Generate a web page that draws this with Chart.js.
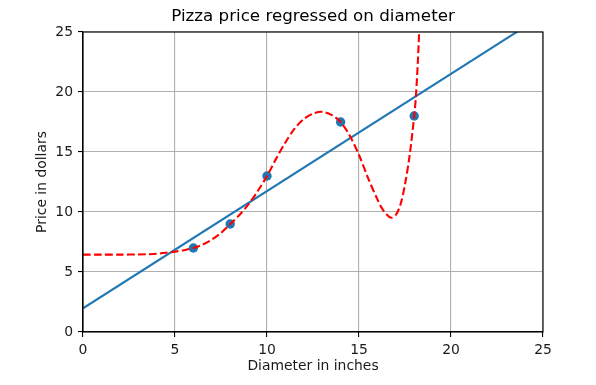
<!DOCTYPE html>
<html>
<head>
<meta charset="utf-8">
<script src="https://cdn.jsdelivr.net/npm/chart.js@4"></script>
<style>
  html, body { margin: 0; padding: 0; background: #fff; }
</style>
</head>
<body>
<canvas id="chart" width="596" height="385"></canvas>
<script>
// training pizzas
const diameters = [6, 8, 10, 14, 18];
const prices = [7, 9, 13, 17.5, 18];

// simple linear fit, read at both ends of the axis
const lineX = [0, 25];
const lineY = [1.97, 26.4];

// high degree polynomial fit
const curveX = [0, 1, 2, 3, 3.5, 4, 4.5, 5, 5.5, 6, 6.5, 7, 7.5, 8, 8.5, 9, 9.5, 10,
  10.5, 11, 11.5, 12, 12.5, 13, 13.5, 14, 14.5, 15, 15.5, 16, 16.25, 16.5, 16.75,
  17, 17.25, 17.5, 17.75, 18, 18.1, 18.2, 18.3];
const curveY = [6.45, 6.45, 6.45, 6.46, 6.48, 6.52, 6.6, 6.7, 6.82, 7.0, 7.28, 7.7, 8.25, 9.0, 9.75, 10.65, 11.75, 13.0,
  14.45, 15.8, 16.95, 17.75, 18.2, 18.35, 18.1, 17.5, 16.35, 14.75, 12.8, 11.05, 10.3, 9.8, 9.52,
  9.75, 10.6, 12.3, 14.7, 18.0, 19.8, 22.6, 26.2];

const axisTicks = [0, 5, 10, 15, 20, 25];

const toXY = (xs, ys) => xs.map((x, i) => ({ x: x, y: ys[i] }));

const font = { family: 'DejaVu Sans', size: 13.9 };

const frame = {
  id: 'frame',
  afterDraw(chart) {
    const a = chart.chartArea;
    const ctx = chart.ctx;
    ctx.save();
    ctx.strokeStyle = '#000';
    ctx.lineWidth = 1.1;
    ctx.strokeRect(a.left, a.top, a.right - a.left, a.bottom - a.top);
    ctx.restore();
  }
};

const axis = (title, fit, titlePad) => ({
  type: 'linear',
  min: 0,
  max: 25,
  afterBuildTicks: (s) => { s.ticks = axisTicks.map(v => ({ value: v })); },
  afterFit: fit,
  grid: { color: '#b0b0b0', lineWidth: 1.1, tickColor: '#000', tickLength: 5 },
  border: { color: '#000', width: 1.1 },
  ticks: { color: '#1a1a1a', font: font, padding: 5, maxRotation: 0 },
  title: { display: true, text: title, color: '#1a1a1a', font: font, padding: titlePad }
});

const config = {
  type: 'scatter',
  data: {
    datasets: [
      {
        data: toXY(curveX, curveY),
        showLine: true,
        borderColor: '#ff0000',
        borderWidth: 2.1,
        borderDash: [7.7, 3.3],
        pointRadius: 0,
        tension: 0.3,
        clip: 0,
        order: 0,
      },
      {
        data: toXY(lineX, lineY),
        showLine: true,
        borderColor: '#1f77b4',
        borderWidth: 2.1,
        pointRadius: 0,
        clip: 0,
        order: 1,
      },
      {
        data: toXY(diameters, prices),
        backgroundColor: '#1f77b4',
        borderWidth: 0,
        pointRadius: 4.7,
        order: 2,
      },
    ],
  },
  options: {
    responsive: false,
    animation: false,
    layout: { padding: { left: 0, right: 53, top: 0, bottom: 0 } },
    plugins: {
      legend: { display: false },
      tooltip: { enabled: false },
      title: {
        display: true,
        fullSize: false,
        text: 'Pizza price regressed on diameter',
        color: '#000',
        font: { family: 'DejaVu Sans', size: 16.7, weight: 'normal' },
        padding: { top: 7, bottom: 5 },
      },
    },
    scales: {
      x: axis('Diameter in inches', (s) => { s.height = 53; }, { top: 0, bottom: 10 }),
      y: axis('Price in dollars', (s) => { s.width = 83; }, { top: 34, bottom: 0 }),
    },
  },
  plugins: [frame],
};

const myChart = new Chart(document.getElementById('chart'), config);
</script>
</body>
</html>
